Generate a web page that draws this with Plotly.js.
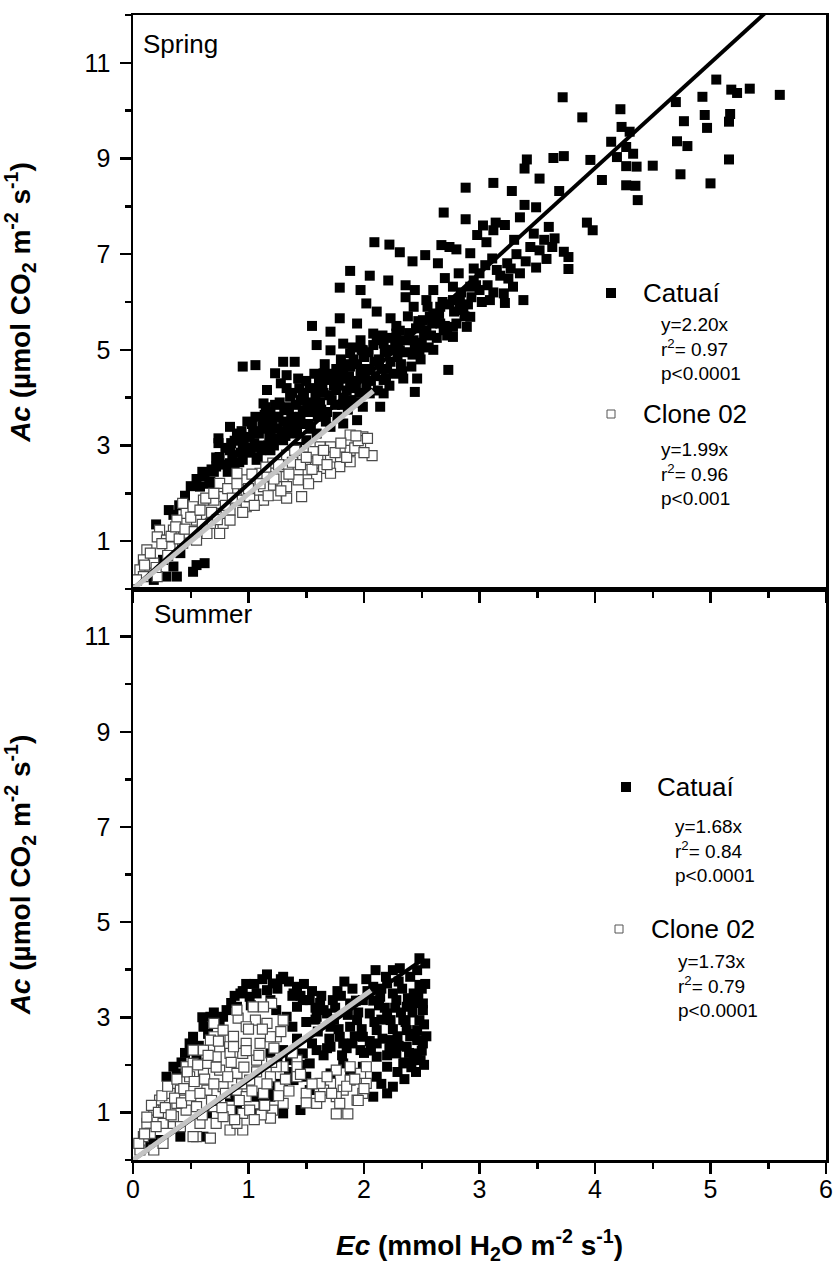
<!DOCTYPE html>
<html>
<head>
<meta charset="utf-8">
<script src="https://cdn.plot.ly/plotly-3.0.1.min.js"></script>
<style>
  html, body { margin: 0; padding: 0; background: #fff; }
  #chart { width: 833px; height: 1265px; }
</style>
</head>
<body>
<div id="chart"></div>
<script>
// Canopy assimilation (Ac) vs canopy transpiration (Ec), two coffee genotypes, spring and summer.
// Each point: [Ec, Ac]

const springCatuai = [
  [3.72,10.28],[3.89,9.86],[4.22,10.03],[5.05,10.65],[5.18,10.44],[5.23,10.37],[5.34,10.46],[5.60,10.33],
  [4.70,10.18],[4.93,10.29],[4.95,9.91],[5.17,9.93],[5.16,9.77],[4.97,9.64],[4.77,9.78],[4.71,9.36],
  [4.80,9.26],[5.16,8.98],[4.74,8.67],[5.00,8.48],[4.50,8.85],[4.23,9.66],[4.30,9.56],[4.14,9.35],
  [4.27,9.24],[4.19,9.03],[4.33,9.10],[4.27,8.84],[4.36,8.83],[4.27,8.44],[4.35,8.43],[4.37,8.13],
  [3.96,8.97],[4.06,8.55],[3.73,9.05],[3.64,9.01],[3.41,8.98],[3.39,8.79],[3.52,8.58],[3.12,8.49],
  [2.88,8.39],[3.28,8.32],[3.69,8.32],[3.39,8.03],[3.49,7.98],[2.69,7.87],[2.88,7.73],[3.35,7.77],
  [3.93,7.66],[3.98,7.50],[3.14,7.66],[3.12,7.50],[3.22,7.61],[3.60,7.57],[3.06,7.25],[3.65,7.33],
  [3.47,7.43],[3.44,7.15],[3.52,7.08],[3.73,7.05],[3.77,6.94],[3.77,6.69],[3.49,6.72],[3.35,6.60],
  [3.24,6.81],[3.11,6.91],[2.92,7.02],[2.67,7.19],[2.74,7.15],[2.53,6.98],[2.64,6.81],[2.82,6.60],
  [2.95,6.70],[3.05,6.77],[3.15,6.67],[3.25,6.49],[3.29,6.32],[3.21,6.18],[3.38,6.04],[3.22,5.98],
  [3.09,6.04],[3.00,6.25],[2.92,6.32],[2.77,6.32],[2.60,6.25],[2.54,6.04],[2.66,5.90],[2.77,6.04],
  [2.86,5.83],[2.92,5.69],[2.89,5.48],[2.77,5.48],[2.66,5.55],[2.57,5.69],[2.77,5.27],[2.54,5.41],
  [2.09,7.25],[2.22,7.20],[2.31,7.04],[2.42,6.85],[1.88,6.65],[2.05,6.55],[2.21,6.45],[2.36,6.35],
  [2.44,6.25],[1.97,6.25],[1.79,6.30],
  [1.79,5.66],[1.55,5.50],[1.71,5.38],[1.94,5.55],[2.02,5.97],[2.11,5.80],[2.23,5.66],[2.43,5.90],
  [2.51,5.62],[2.60,5.76],[2.69,5.41],[1.59,5.10],[1.71,4.99],[1.82,5.13],[1.97,5.20],[2.08,5.34],
  [1.88,4.93],[1.99,4.99],[2.17,5.13],[2.28,5.34],[2.31,4.99],[2.48,4.99],[2.43,5.20],[0.95,4.65],
  [1.06,4.68],[1.30,4.75],[1.40,4.75],[1.23,4.51],[1.33,4.47],[1.16,4.16],[1.13,3.88],[1.14,3.64],
  [1.24,3.60],[1.36,4.02],[1.45,3.95],[1.34,3.74],[1.47,3.74],[1.59,4.16],[1.71,4.37],[1.82,4.58],
  [1.65,4.51],[1.76,4.16],[1.88,4.30],[1.99,4.44],[2.05,4.09],[2.17,4.37],[2.17,4.09],[2.14,3.81],
  [1.99,3.81],[1.94,3.53],[1.82,3.46],[1.71,3.39],[1.59,3.25],[1.50,3.11],[2.34,4.40],[2.46,4.40],
  [2.44,4.12],[2.73,4.58],[0.84,3.39],[0.74,3.15],[0.90,3.25],[1.01,3.18],[1.07,2.97],[0.95,2.97],
  [0.84,2.90],[0.75,2.76],[0.72,2.56],[0.84,2.63],[0.95,2.70],[1.07,2.70],[1.19,2.90],[1.30,3.11],
  [1.19,3.18],[1.36,3.39],[1.42,2.97],[0.67,2.24],[0.58,2.14],[0.31,1.65],[0.55,0.50],[0.62,0.54],
  [0.52,0.36],[0.35,0.47],[0.29,0.26],[0.38,0.26],[0.26,0.61],[0.41,0.75],[0.18,0.19],
  [0.62,2.35],[0.68,2.50],[0.72,2.75],[0.78,2.60],[0.80,2.95],[0.66,2.20],[0.74,3.05],
  [0.82,2.45],[0.86,2.80],[0.88,3.10],[0.92,2.65],[0.94,3.30],[0.97,2.90],[0.99,3.50],[0.90,2.40],
  [1.02,2.85],[1.04,3.30],[1.06,3.60],[1.10,3.00],[1.12,3.40],[1.15,3.80],[1.18,3.20],[1.20,3.55],[1.08,2.75],
  [1.22,3.00],[1.25,3.35],[1.27,3.90],[1.30,3.50],[1.32,3.20],[1.35,3.80],[1.38,4.10],[1.40,3.45],[1.28,4.30],
  [1.42,3.30],[1.45,3.60],[1.48,4.00],[1.50,4.35],[1.52,3.45],[1.55,3.85],[1.57,4.50],[1.60,3.60],[1.44,4.20],
  [1.62,3.90],[1.64,4.30],[1.66,4.70],[1.68,3.70],[1.70,4.05],[1.73,4.50],[1.75,3.85],[1.78,4.25],[1.80,4.80],
  [1.82,4.00],[1.84,4.40],[1.86,3.75],[1.88,4.65],[1.90,5.05],[1.93,4.20],[1.95,3.90],[1.97,4.55],[2.00,4.85],
  [2.02,4.30],[2.05,4.60],[2.08,5.10],[2.10,4.45],[2.13,4.80],[2.16,5.30],[2.20,4.60],[2.24,5.00],[2.28,5.50],[2.22,4.25],
  [2.32,4.70],[2.35,5.20],[2.38,5.70],[2.42,4.90],[2.45,5.45],[2.50,5.15],[2.55,5.90],[2.58,5.30],[2.36,6.10],
  [2.62,5.60],[2.68,6.00],[2.72,5.30],[2.78,5.80],[2.84,6.20],[2.90,5.95],[2.95,6.45],[2.70,6.50],[3.00,6.60],[2.60,5.00],
  [0.85,3.05],[0.88,2.55],[0.93,2.85],[0.96,3.15],[1.00,2.95],[1.03,3.45],[1.05,3.05],[1.09,3.25],[1.11,2.90],
  [1.13,3.55],[1.16,3.35],[1.17,3.00],[1.19,3.70],[1.21,3.40],[1.23,3.85],[1.24,3.15],[1.26,3.60],[1.29,3.30],
  [1.31,3.75],[1.33,4.20],[1.34,3.45],[1.37,3.60],[1.39,3.25],[1.41,3.85],[1.43,4.40],[1.46,3.45],[1.47,4.10],
  [1.49,3.70],[1.51,3.90],[1.53,4.20],[1.54,3.35],[1.56,3.70],[1.58,4.00],[1.61,4.35],[1.63,3.75],[1.65,4.10],
  [1.67,3.50],[1.69,4.45],[1.72,3.95],[1.74,4.25],[1.76,4.60],[1.77,3.60],[1.79,4.40],[1.81,3.85],[1.83,4.70],
  [1.85,4.15],[1.87,4.45],[1.89,3.95],[1.91,4.80],[1.92,4.35],[1.94,4.70],[1.96,4.10],[1.98,5.00],[2.01,4.60],
  [2.03,4.10],[2.04,4.95],[2.06,4.35],[2.09,4.75],[2.11,5.20],[2.12,4.15],[2.15,4.60],[2.18,4.95],[2.19,4.40],
  [2.21,5.25],[2.23,4.75],[2.26,4.50],[2.27,5.15],[2.29,4.85],[2.31,5.40],[2.33,4.55],[2.37,4.95],[2.39,5.35],
  [2.41,4.65],[2.44,5.10],[2.47,5.60],[2.49,4.80],[2.52,5.35],[2.56,5.05],[2.59,5.55],[2.63,5.25],[2.65,5.75],
  [2.70,5.50],[2.74,5.95],[2.80,5.55],[2.83,6.00],[2.87,5.70],[2.93,6.10],[2.97,6.35],[3.02,6.00],[3.07,6.35],
  [3.12,6.20],[3.18,6.55],[3.27,6.70],[3.32,7.00],[3.40,6.85],[3.30,7.30],[3.56,7.30],[3.63,7.15],[3.58,6.90],
  [2.98,7.40],[2.80,7.10],[3.03,7.60],
  [0.45,1.95],[0.50,2.15],[0.55,2.30],[0.40,1.75],[0.60,2.45],[0.35,1.55],[0.70,2.45],[0.20,1.35]
];

const springClone = [
  [2.07,2.79],[1.99,3.18],[1.88,3.22],[1.97,3.04],[1.88,2.90],[1.79,2.76],[1.88,2.66],[1.79,2.56],
  [1.71,2.76],[1.62,2.97],[1.71,2.97],[1.56,2.87],[1.47,2.76],[1.58,2.63],[1.65,2.52],[1.50,2.49],
  [1.43,2.49],[1.43,2.28],[1.46,1.93],[1.33,1.90],[1.24,1.96],[1.29,2.17],[1.19,2.17],[1.30,2.35],
  [1.33,2.80],[1.40,2.90],[1.21,2.63],[1.10,2.42],[1.13,2.14],[1.07,1.86],[0.98,2.28],[0.87,2.07],
  [0.93,1.86],[0.98,1.72],[0.84,1.65],[0.75,2.21],[0.78,1.93],[0.70,1.86],[0.61,1.86],[0.72,1.58],
  [0.78,1.37],[0.84,1.44],[0.75,1.16],[0.64,1.16],[0.55,1.44],[0.46,1.58],[0.43,1.79],[0.52,1.72],
  [0.38,1.44],[0.35,1.23],[0.23,1.23],[0.21,1.09],[0.29,1.02],[0.32,0.88],[0.12,0.82],[0.09,0.61],
  [0.18,0.54],[0.06,0.40],[0.09,0.26],[0.03,0.19],[0.21,0.26],[0.43,0.96],[0.55,1.02],[0.67,1.37],
  [0.90,2.42],[0.98,2.07],[1.16,2.35],[1.24,2.35],[1.59,2.35],[1.71,2.42],[1.33,2.14],[1.01,1.93],
  [1.13,1.86],
  [0.10,0.50],[0.15,0.75],[0.20,0.45],[0.25,0.95],[0.30,0.70],[0.33,1.10],[0.37,1.30],[0.40,1.05],
  [0.45,1.25],[0.50,1.50],[0.53,1.20],[0.58,1.65],[0.60,1.35],[0.63,1.90],[0.68,1.60],[0.70,2.00],
  [0.73,1.45],[0.80,1.75],[0.82,2.10],[0.86,1.90],[0.90,2.20],[0.95,1.60],[1.00,2.10],[1.03,2.40],
  [1.05,1.75],[1.10,2.20],[1.15,2.55],[1.17,1.95],[1.22,2.30],[1.26,2.60],[1.28,2.05],[1.35,2.40],
  [1.38,2.65],[1.45,2.60],[1.50,2.75],[1.52,2.20],[1.55,2.50],[1.60,2.70],[1.65,2.90],[1.68,2.60],
  [1.75,2.85],[1.80,3.05],[1.85,2.75],[1.92,2.95],[1.95,3.10],[2.00,2.85],[2.03,3.15],[1.93,3.20]
];

const summerCatuai = [
  [2.48,4.24],[2.53,4.13],[2.10,3.99],[2.25,3.99],[2.31,4.03],[2.46,3.99],[1.83,3.75],[2.08,3.64],
  [2.20,3.71],[2.48,3.68],[2.43,3.50],[2.51,3.29],[2.37,3.22],[2.28,3.36],[2.14,3.43],[1.99,3.36],
  [1.88,3.29],[2.05,3.08],[2.20,3.08],[2.34,2.94],[2.48,2.94],[2.46,2.73],[2.46,2.52],[2.46,2.24],
  [2.37,2.38],[2.28,2.24],[2.34,2.03],[2.23,2.52],[2.11,2.73],[2.11,2.45],[2.11,2.17],[1.99,2.59],
  [1.97,2.31],[1.88,2.80],[1.82,2.45],[1.79,2.59],[1.71,2.80],[1.59,3.01],[1.53,3.36],[1.65,3.15],
  [1.42,3.22],[1.47,3.36],[1.33,3.01],[1.39,3.50],[1.42,3.64],[1.30,3.85],[1.21,3.71],[1.16,3.57],
  [1.07,3.50],[1.01,3.43],[0.90,3.22],[0.81,3.15],[0.78,3.01],[0.61,2.80],[0.52,2.59],[0.35,1.96],
  [0.29,1.75],[0.38,1.82],[1.19,2.24],[1.30,2.31],[1.36,2.10],[1.47,2.24],[1.59,2.31],[1.71,2.38],
  [1.53,2.03],[1.50,1.75],[1.39,1.68],[1.30,1.47],[1.19,1.33],[1.13,1.19],[1.07,0.98],[1.30,0.98],
  [1.45,1.05],[1.71,1.82],[1.82,2.03],[2.11,1.75],[2.25,1.54],[2.20,1.40],[2.08,1.33],[1.88,1.82],
  [1.53,1.47],[1.07,1.33],[0.84,1.33],[0.90,1.05],[0.64,0.98],[0.61,0.49],[0.41,0.49],[0.23,0.42],
  [0.15,0.35],[0.55,2.10],[0.49,2.45],[0.67,3.01],[0.93,3.50],[1.19,3.36],[1.24,3.15],[1.68,3.08],
  [1.73,3.36],[1.94,2.94],[2.23,2.94],[2.37,2.73],[2.51,3.15],[2.51,2.45],[2.43,2.10],[2.20,1.96],
  [1.99,1.96],
  [0.70,3.10],[0.85,3.30],[0.95,3.55],[1.05,3.70],[1.12,3.80],[1.25,3.60],[1.35,3.75],[1.45,3.45],
  [1.55,3.55],[1.62,3.30],[1.75,3.20],[1.80,3.45],[1.90,3.60],[1.95,3.10],[2.02,3.80],[2.08,3.35],
  [2.15,3.60],[2.18,3.20],[2.25,3.50],[2.30,3.75],[2.32,3.10],[2.38,3.40],[2.40,3.85],[2.45,3.30],
  [2.50,3.60],[2.52,2.85],[2.40,2.60],[2.30,2.40],[2.35,2.05],[2.25,2.75],[2.15,2.95],[2.20,2.20],
  [2.05,2.50],[2.00,2.25],[1.92,2.60],[1.85,2.35],[1.78,2.75],[1.70,2.55],[1.65,2.20],[1.60,2.70],
  [1.55,2.45],[1.50,2.90],[1.42,2.55],[1.38,2.80],[1.45,2.00],[1.35,1.85],[1.25,1.60],[1.18,1.45],
  [1.25,2.05],[2.45,1.85],[2.35,1.70],[2.15,1.60],[2.50,2.30],[2.52,2.00],[1.02,3.25],[0.75,2.90],
  [0.65,2.65],[0.45,2.25],
  [1.58,2.95],[1.63,3.45],[1.68,2.35],[1.74,2.95],[1.77,3.55],[1.81,2.20],[1.86,3.05],[1.90,2.45],
  [1.93,3.35],[1.98,2.75],[2.03,3.55],[2.06,2.30],[2.09,2.90],[2.13,3.25],[2.16,2.55],[2.19,3.85],
  [2.22,2.35],[2.27,3.20],[2.29,2.60],[2.33,3.60],[2.36,2.90],[2.39,2.25],[2.42,3.10],[2.44,2.65],
  [2.47,3.45],[2.49,2.10],[2.53,3.70],[2.54,2.60],[2.41,1.95],[2.29,1.85],[1.16,3.90],[1.28,3.80],
  [1.38,3.45],[0.98,3.70],[0.88,3.45],[1.48,3.70],[1.58,3.20],[0.60,3.00],[0.57,2.40],[0.42,2.05]
];

const summerClone = [
  [1.76,0.97],[1.86,0.97],[1.99,1.40],[2.02,1.61],[1.97,1.82],[2.02,1.96],[1.88,1.96],[1.88,1.68],
  [1.82,1.47],[1.76,1.33],[1.71,1.61],[1.65,1.47],[1.62,1.61],[1.50,1.40],[1.59,1.19],[1.76,1.89],
  [1.94,1.26],[1.42,2.10],[1.30,1.96],[1.27,1.54],[1.30,1.19],[1.21,1.05],[1.19,0.88],[1.11,0.95],
  [1.24,2.59],[1.30,2.94],[1.20,3.29],[1.13,3.22],[1.04,3.22],[1.06,2.94],[0.91,2.98],[0.98,2.80],
  [0.84,2.59],[0.70,2.59],[0.61,2.31],[0.52,2.31],[0.46,1.96],[0.49,1.75],[0.41,1.47],[0.32,1.40],
  [0.23,1.26],[0.18,1.05],[0.12,0.77],[0.09,0.49],[0.06,0.21],[0.18,0.21],[0.26,0.35],[0.35,0.77],
  [0.55,0.49],[0.67,0.46],[0.58,0.77],[0.72,0.77],[0.84,0.63],[0.95,0.63],[0.95,0.98],[0.84,1.05],
  [0.70,1.12],[0.55,1.12],[0.46,1.05],[0.35,0.91],[0.64,1.47],[0.78,1.54],[0.90,1.47],[0.98,1.33],
  [1.01,1.68],[0.90,1.82],[0.75,1.89],[0.61,1.82],[0.72,2.17],[0.84,2.24],[0.95,2.24],[1.07,2.10],
  [1.10,2.45],[0.98,2.45],[0.87,2.38],[0.75,2.38],[0.64,2.03],[1.19,1.75],[1.13,1.40],[1.01,1.05],
  [0.70,2.87],[0.78,2.73],[1.19,2.59],[1.16,2.87],[0.90,3.15],[0.67,2.52],[0.52,2.03],[0.38,1.19],
  [0.26,0.77],[0.15,0.56],[0.41,0.70],[0.78,0.91],[0.90,0.77],[0.52,0.49],[1.24,1.96],[1.42,1.96],
  [1.42,1.75],[1.62,1.33],[1.79,1.19],
  [0.05,0.35],[0.10,0.55],[0.12,0.90],[0.16,1.15],[0.20,0.70],[0.22,1.00],[0.25,1.35],[0.28,1.10],
  [0.30,1.55],[0.33,0.95],[0.36,1.30],[0.38,1.70],[0.42,1.20],[0.44,1.50],[0.47,1.85],[0.50,1.35],
  [0.53,1.65],[0.56,2.00],[0.58,1.40],[0.60,0.95],[0.62,1.70],[0.65,2.20],[0.68,1.25],[0.70,1.60],
  [0.72,1.95],[0.74,2.50],[0.77,1.10],[0.80,1.40],[0.82,1.75],[0.85,2.05],[0.87,2.60],[0.88,0.85],
  [0.92,1.25],[0.94,1.60],[0.96,1.95],[0.98,2.30],[1.00,2.75],[1.03,1.45],[1.05,0.85],[1.07,1.85],
  [1.09,2.20],[1.12,2.75],[1.14,1.15],[1.16,1.60],[1.20,2.05],[1.22,2.35],[1.26,1.35],[1.28,2.70],
  [1.32,1.70],[1.35,1.45],[1.38,2.25],[1.45,1.80],[1.50,1.20],[1.55,1.60],[1.68,1.75],[1.72,1.40],
  [1.85,1.55],[1.92,1.70],[1.95,1.25],[2.00,1.50]
];

// Regression slopes (y = b·x) and the Ec span each fitted line covers
const fitSlopes = { springCatuai: 2.20, springClone: 1.99, summerCatuai: 1.68, summerClone: 1.73 };
const fitEcEnd  = { springCatuai: 5.60, springClone: 2.08, summerCatuai: 2.52, summerClone: 2.06 };

const statsText = {
  springCatuai: ['y=2.20x', 'r<sup>2</sup>= 0.97', 'p<0.0001'],
  springClone:  ['y=1.99x', 'r<sup>2</sup>= 0.96', 'p<0.001'],
  summerCatuai: ['y=1.68x', 'r<sup>2</sup>= 0.84', 'p<0.0001'],
  summerClone:  ['y=1.73x', 'r<sup>2</sup>= 0.79', 'p<0.0001']
};
const seriesNames = ['Catuaí', 'Clone 02'];
const panelNames = ['Spring', 'Summer'];

const FONT = 'Liberation Sans, Arial, Helvetica, sans-serif';
const W = 833, H = 1265;
const M = { l: 133, r: 7, t: 15, b: 105 };
const plotW = W - M.l - M.r, plotH = H - M.t - M.b;
const split = (1160 - 589) / plotH;   // bottom panel height fraction
const px2x = p => (p - M.l) / plotW;
const px2y = p => (H - M.b - p) / plotH;

const xs = a => a.map(d => d[0]);
const ys = a => a.map(d => d[1]);

const filled = { symbol: 'square', size: 10, color: '#000', line: { width: 0 } };
const hollow = { symbol: 'square', size: 10, color: '#fff', line: { color: '#4a4a4a', width: 1.2 } };

function pts(data, marker, xa, ya) {
  return { type: 'scatter', mode: 'markers', x: xs(data), y: ys(data), marker, xaxis: xa, yaxis: ya, showlegend: false, hoverinfo: 'skip' };
}
function fit(key, color, width, xa, ya) {
  const x = [0, fitEcEnd[key]];
  return { type: 'scatter', mode: 'lines', x, y: x.map(v => v * fitSlopes[key]), line: { color, width }, xaxis: xa, yaxis: ya, showlegend: false, hoverinfo: 'skip' };
}

const traces = [
  pts(springCatuai, filled, 'x', 'y'),
  pts(springClone, hollow, 'x', 'y'),
  fit('springCatuai', '#000', 4, 'x', 'y'),
  fit('springClone', '#c4c4c4', 5, 'x', 'y'),
  pts(summerCatuai, filled, 'x2', 'y2'),
  pts(summerClone, hollow, 'x2', 'y2'),
  fit('summerCatuai', '#000', 4, 'x2', 'y2'),
  fit('summerClone', '#c4c4c4', 5, 'x2', 'y2')
];

const axisLine = { showline: true, linecolor: '#000', linewidth: 2.5, mirror: true, zeroline: false, showgrid: false };
const tickFont = { family: FONT, size: 25, color: '#000' };

function xAxis(anchor, labels) {
  return Object.assign({}, axisLine, {
    anchor, range: [0, 6], tick0: 0, dtick: 1, ticks: 'outside', ticklen: 11, tickwidth: 2.5, tickcolor: '#000',
    minor: { dtick: 0.5, ticks: 'outside', ticklen: 6, tickwidth: 2.5, tickcolor: '#000' },
    showticklabels: labels, tickfont: tickFont, ticklabelstandoff: -6
  });
}
const yTitle = '<b><i>Ac</i> (µmol CO<sub>2</sub> m<sup>-2</sup> s<sup>-1</sup>)</b>';
function yAxis(anchor, domain) {
  return Object.assign({}, axisLine, {
    anchor, domain, range: [0, 12], tick0: 1, dtick: 2, ticks: 'outside', ticklen: 11, tickwidth: 2.5, tickcolor: '#000',
    minor: { dtick: 1, ticks: 'outside', ticklen: 6, tickwidth: 2.5, tickcolor: '#000' },
    tickfont: tickFont, ticklabelstandoff: 4,
    title: { text: yTitle, font: { family: FONT, size: 28, color: '#000' }, standoff: 46 }
  });
}

const annotations = [];
const shapes = [];
function label(text, xp, yp, size) {
  annotations.push({ xref: 'paper', yref: 'paper', x: px2x(xp), y: px2y(yp), xanchor: 'left', yanchor: 'middle',
    text, showarrow: false, font: { family: FONT, size, color: '#000' }, align: 'left' });
}
function stats(lines, xp, yp) {
  annotations.push({ xref: 'paper', yref: 'paper', x: px2x(xp), y: px2y(yp), xanchor: 'left', yanchor: 'top',
    text: lines.join('<br>'), showarrow: false, font: { family: FONT, size: 19, color: '#000' }, align: 'left' });
}
function key(xp, yp, half, fill, line) {
  shapes.push({ type: 'rect', xref: 'paper', yref: 'paper', xsizemode: 'pixel', ysizemode: 'pixel',
    xanchor: px2x(xp), yanchor: px2y(yp), x0: -half, x1: half, y0: -half, y1: half,
    fillcolor: fill, line: { color: line, width: fill === '#000' ? 0 : 1 } });
}

// panel labels
label(panelNames[0], 141, 44, 26);
label(panelNames[1], 152, 614, 26);

// spring keys and statistics
key(611, 293, 5, '#000', '#000');
label(seriesNames[0], 641, 293, 26);
stats(statsText.springCatuai, 659, 312);
key(611, 414, 4, '#fff', '#555');
label(seriesNames[1], 641, 414, 26);
stats(statsText.springClone, 659, 437);

// summer keys and statistics
key(626, 787, 5, '#000', '#000');
label(seriesNames[0], 655, 787, 26);
stats(statsText.summerCatuai, 673, 814);
key(619, 929, 4, '#fff', '#555');
label(seriesNames[1], 649, 929, 26);
stats(statsText.summerClone, 676, 949);

const layout = {
  width: W, height: H,
  margin: M,
  paper_bgcolor: '#fff', plot_bgcolor: '#fff',
  font: { family: FONT, color: '#000' },
  xaxis: xAxis('y', false),
  yaxis: yAxis('x', [split, 1]),
  xaxis2: Object.assign(xAxis('y2', true), {
    title: { text: '<b><i>Ec</i> (mmol H<sub>2</sub>O m<sup>-2</sup> s<sup>-1</sup>)</b>', font: { family: FONT, size: 28, color: '#000' }, standoff: 34 }
  }),
  yaxis2: yAxis('x2', [0, split]),
  annotations, shapes,
  showlegend: false
};

Plotly.newPlot('chart', traces, layout, { staticPlot: true, displayModeBar: false });
</script>
</body>
</html>
